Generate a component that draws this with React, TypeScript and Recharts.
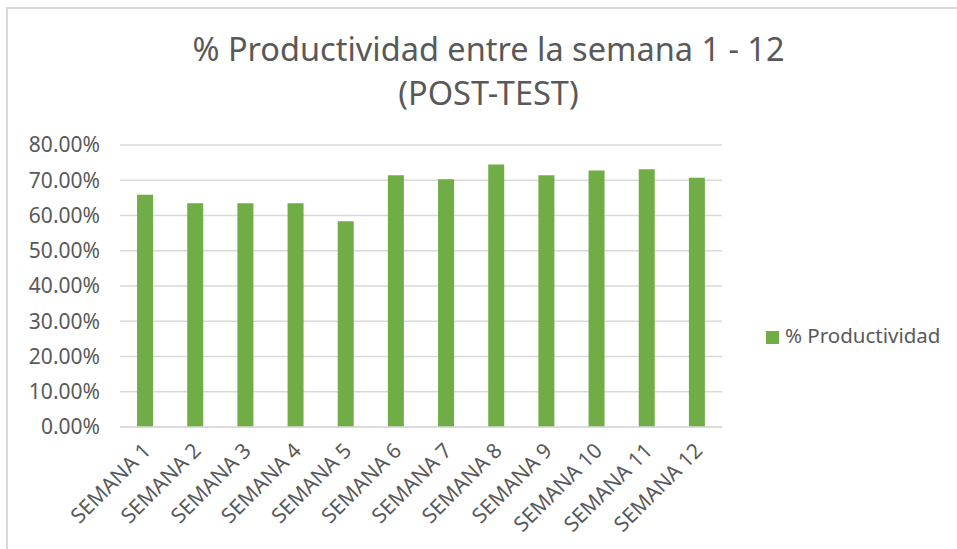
import React from 'react';
import { BarChart, Bar, XAxis, YAxis, CartesianGrid, Legend } from 'recharts';

const weeks = [
  'SEMANA 1', 'SEMANA 2', 'SEMANA 3', 'SEMANA 4', 'SEMANA 5', 'SEMANA 6',
  'SEMANA 7', 'SEMANA 8', 'SEMANA 9', 'SEMANA 10', 'SEMANA 11', 'SEMANA 12',
];
const productividad = [65.9, 63.5, 63.5, 63.5, 58.4, 71.4, 70.3, 74.5, 71.4, 72.8, 73.1, 70.7];
const yTicks = [0, 10, 20, 30, 40, 50, 60, 70, 80];

const data = weeks.map((name, i) => ({ name, value: productividad[i] }));

const FONT = '"Noto Sans", "Open Sans", sans-serif';
const TEXT = '#595959';

const WeekTick = ({ x, y, payload }: any) => (
  <g transform={`translate(${x + 2},${y + 12})`}>
    <text transform="rotate(-45)" textAnchor="end" dy={7} fill={TEXT} fontSize={21} fontFamily={FONT}>
      {payload.value}
    </text>
  </g>
);

const App = () => {
  return (
    <div style={{ position: 'fixed', left: 0, top: 0, width: 957, height: 549, background: '#fff' }}>
      <div
        style={{
          position: 'absolute', left: 6, top: 7, width: 960, height: 560,
          border: '2px solid #d9d9d9', boxSizing: 'border-box',
        }}
      />
      <div
        style={{
          position: 'absolute', left: 0, top: 27, width: 977, textAlign: 'center',
          fontFamily: FONT, fontSize: 32.5, color: TEXT, lineHeight: '44px',
        }}
      >
        % Productividad entre la semana 1 - 12
        <br />
        (POST-TEST)
      </div>
      <BarChart
        width={957}
        height={549}
        data={data}
        margin={{ top: 145, right: 35, left: 0, bottom: 12 }}
        barCategoryGap="34%"
        style={{ position: 'absolute', left: 0, top: 0 }}
      >
        <CartesianGrid vertical={false} stroke="#d9d9d9" strokeWidth={1.5} />
        <XAxis
          dataKey="name"
          interval={0}
          height={110}
          tickLine={false}
          stroke="#d9d9d9"
          strokeWidth={1.5}
          tick={<WeekTick />}
        />
        <YAxis
          domain={[0, 80]}
          ticks={yTicks}
          width={120}
          axisLine={false}
          tickLine={false}
          tickSize={0}
          tickMargin={20}
          tickFormatter={(v: number) => `${v.toFixed(2)}%`}
          tick={{ fill: TEXT, fontSize: 21, fontFamily: FONT }}
        />
        <Legend
          layout="vertical"
          align="right"
          verticalAlign="middle"
          iconType="square"
          iconSize={13}
          wrapperStyle={{ left: 766, top: 321, width: 200, fontFamily: FONT, fontSize: 20.5 }}
          formatter={(value: string) => <span style={{ color: TEXT, marginLeft: 2 }}>{value}</span>}
        />
        <Bar dataKey="value" name="% Productividad" fill="#70ad47" isAnimationActive={false} />
      </BarChart>
    </div>
  );
};

export default App;
